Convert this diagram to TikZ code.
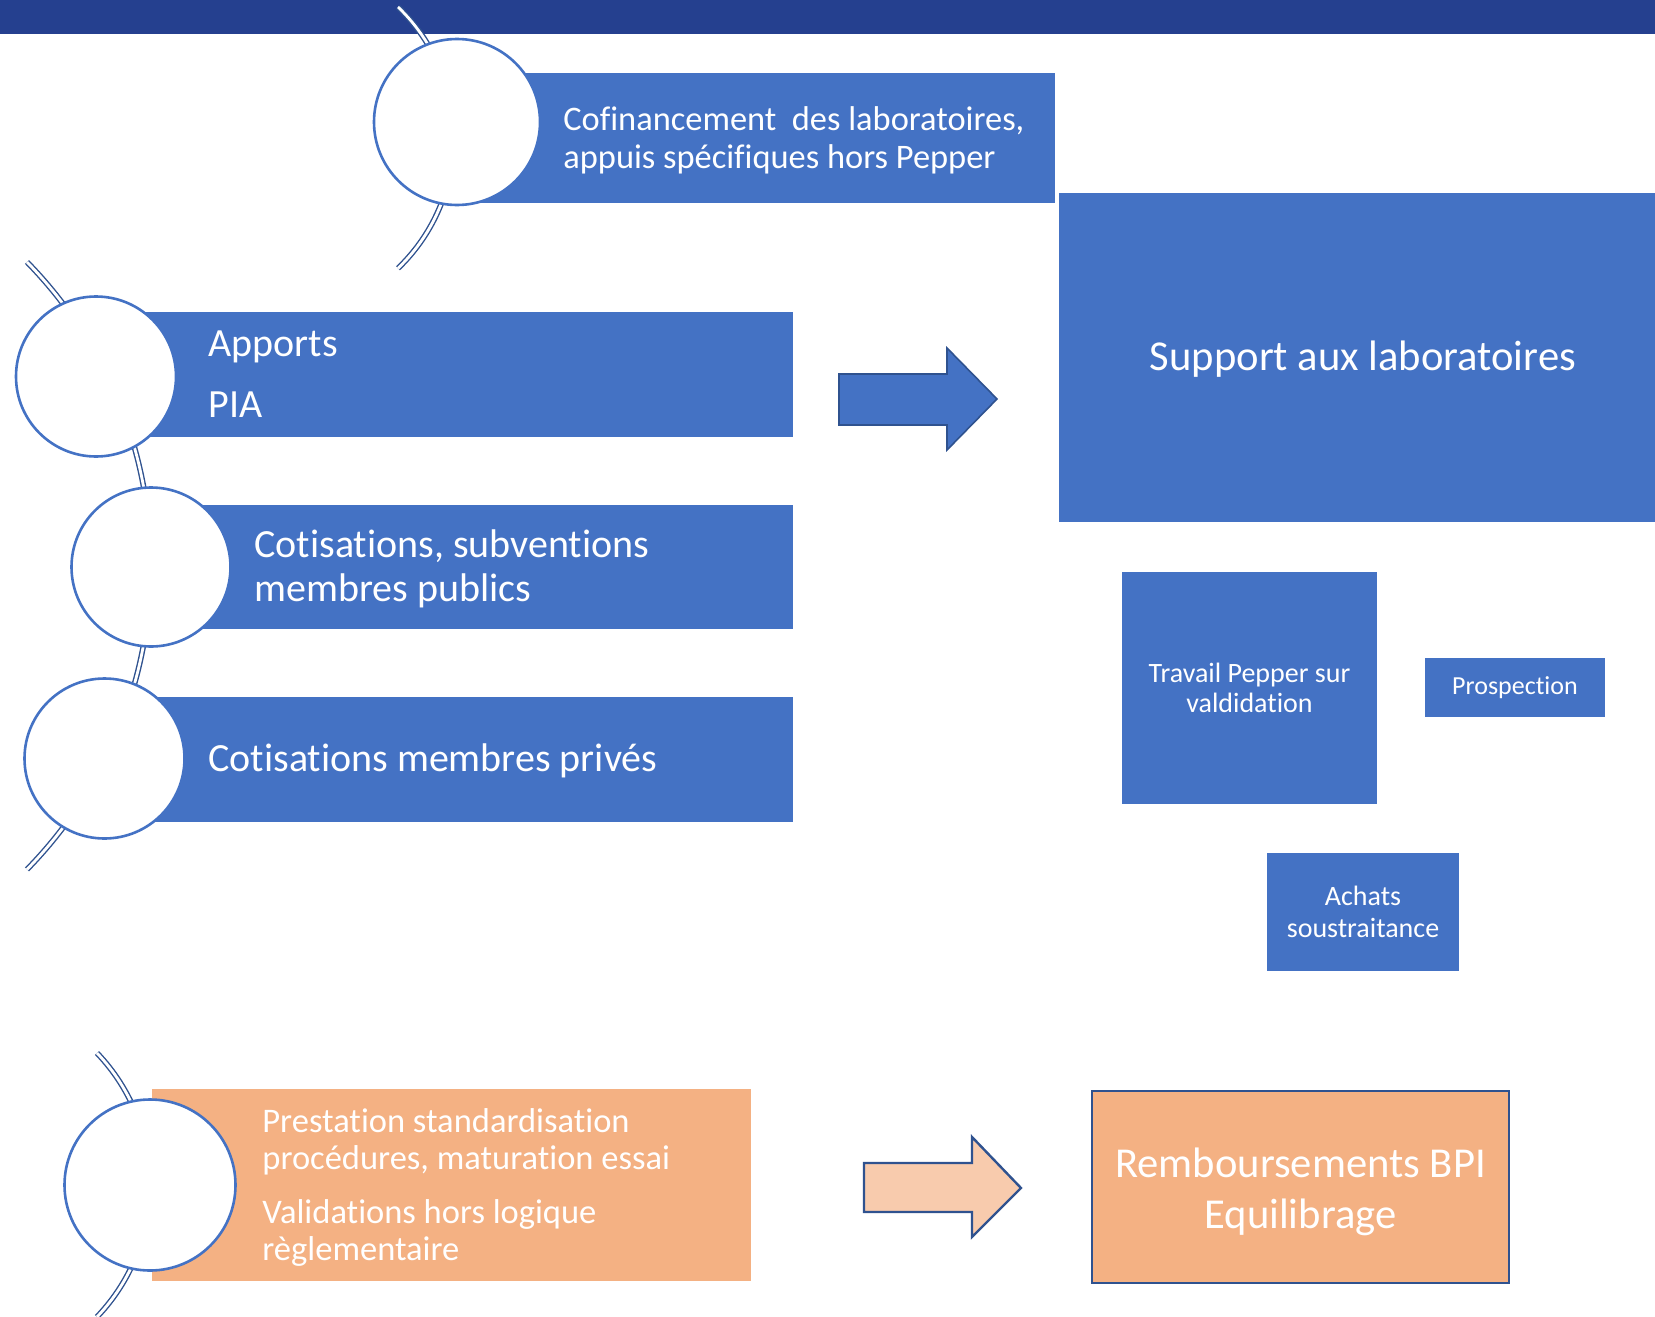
\documentclass[tikz,border=0pt]{standalone}
\usepackage{fontspec}
\setmainfont{Carlito}[Ligatures={NoCommon,NoContextual}]
\definecolor{accblue}{HTML}{4472C4}
\definecolor{darkblue}{HTML}{2F528F}
\definecolor{barblue}{HTML}{25408F}
\definecolor{orangebox}{HTML}{F4B183}
\definecolor{peach}{HTML}{F8CBAD}
\tikzset{
  bluebox/.style={rectangle, fill=accblue, draw=none, inner sep=0pt, text=white, align=center},
  orangerect/.style={rectangle, fill=orangebox, draw=none, inner sep=0pt},
  circ/.style={circle, draw=accblue, fill=white, line width=1.3pt, inner sep=0pt},
  arcline/.style={draw=darkblue, double=white, line width=0.7pt, double distance=1.4pt},
  txt/.style={text=white, inner sep=0pt, align=left, anchor=west},
  ctxt/.style={text=white, inner sep=0pt, align=center},
  blockarrow/.style={draw=darkblue, line join=miter}
}
\begin{document}
\begin{tikzpicture}[x=0.5pt,y=-0.5pt]
\useasboundingbox (0,0) rectangle (1655,1317);
% top bar
\fill[barblue] (0,0) rectangle (1655,34);
% arcs
\draw[arcline] (398,7) arc[start angle=-46.2, end angle=46.2, radius=181];
\draw[arcline] (27,262) arc[start angle=-44.35, end angle=44.35, radius=434.5];
\draw[arcline] (97,1053) arc[start angle=-43.7, end angle=43.7, radius=191];
% bars
\node[bluebox, minimum width=299pt, minimum height=65pt] (r0) at (756,138) {};
\node[bluebox, minimum width=349pt, minimum height=62.5pt] (r1) at (444,374.5) {};
\node[bluebox, minimum width=321pt, minimum height=62pt] (r2) at (472,567) {};
\node[bluebox, minimum width=344.5pt, minimum height=62.5pt] (r3) at (448.5,759.5) {};
\node[orangerect, minimum width=299.5pt, minimum height=96pt] (r4) at (451.5,1185) {};
% circles
\node[circ, minimum size=83pt] (c0) at (457,122) {};
\node[circ, minimum size=80pt] (c1) at (96,376.5) {};
\node[circ, minimum size=79.5pt] (c2) at (151,567) {};
\node[circ, minimum size=80pt] (c3) at (104.5,758.5) {};
\node[circ, minimum size=85.5pt] (c4) at (150,1185) {};
% bar texts
\node[txt, font=\fontsize{17.2}{19.3}\selectfont] (t0) at (563,140.5) {Cofinancement~ des laboratoires,\\appuis spécifiques hors Pepper};
\node[txt, font=\fontsize{20}{30.5}\selectfont] (t1) at (208,374) {Apports\\PIA};
\node[txt, font=\fontsize{20}{22}\selectfont] (t2) at (254,569) {Cotisations, subventions\\membres publics};
\node[txt, font=\fontsize{20}{24}\selectfont] (t3) at (208,760.5) {Cotisations membres privés};
\node[txt, font=\fontsize{17.25}{18.5}\selectfont] (t4) at (262,1187) {Prestation standardisation\\procédures, maturation essai\\[8.5pt]Validations hors logique\\règlementaire};
% right boxes
\node[bluebox, minimum width=298pt, minimum height=164.5pt] (sup) at (1357,357.5) {};
\node[ctxt, font=\fontsize{21.3}{25}\selectfont] (suptxt) at ([xshift=3pt,yshift=-1pt]sup.center) {Support aux laboratoires};
\node[bluebox, minimum width=127.5pt, minimum height=116pt, font=\fontsize{14}{14.65}\selectfont] (trav) at (1249.5,688) {Travail Pepper sur\\valdidation};
\node[bluebox, minimum width=90pt, minimum height=29.5pt, font=\fontsize{13}{15}\selectfont] (pros) at (1515,687.5) {Prospection};
\node[bluebox, minimum width=96pt, minimum height=59pt, font=\fontsize{14}{15.85}\selectfont] (ach) at (1363,912) {Achats\\soustraitance};
\node[rectangle, fill=orangebox, draw=darkblue, line width=1.2pt, inner sep=0pt, minimum width=208.5pt, minimum height=96pt] (remb) at (1300.5,1187) {};
\node[ctxt, font=\fontsize{21.3}{25.5}\selectfont] (rembtxt) at ([yshift=-2.65pt]remb.center) {Remboursements BPI\\Equilibrage};
% block arrows
\filldraw[blockarrow, fill=accblue, line width=0.8pt] (839,374) -- (947,374) -- (947,348) -- (997,399) -- (947,450) -- (947,425) -- (839,425) -- cycle;
\filldraw[blockarrow, fill=peach, line width=1.2pt] (864,1163) -- (972,1163) -- (972,1137) -- (1021,1188) -- (972,1237) -- (972,1212) -- (864,1212) -- cycle;
\end{tikzpicture}
\end{document}
